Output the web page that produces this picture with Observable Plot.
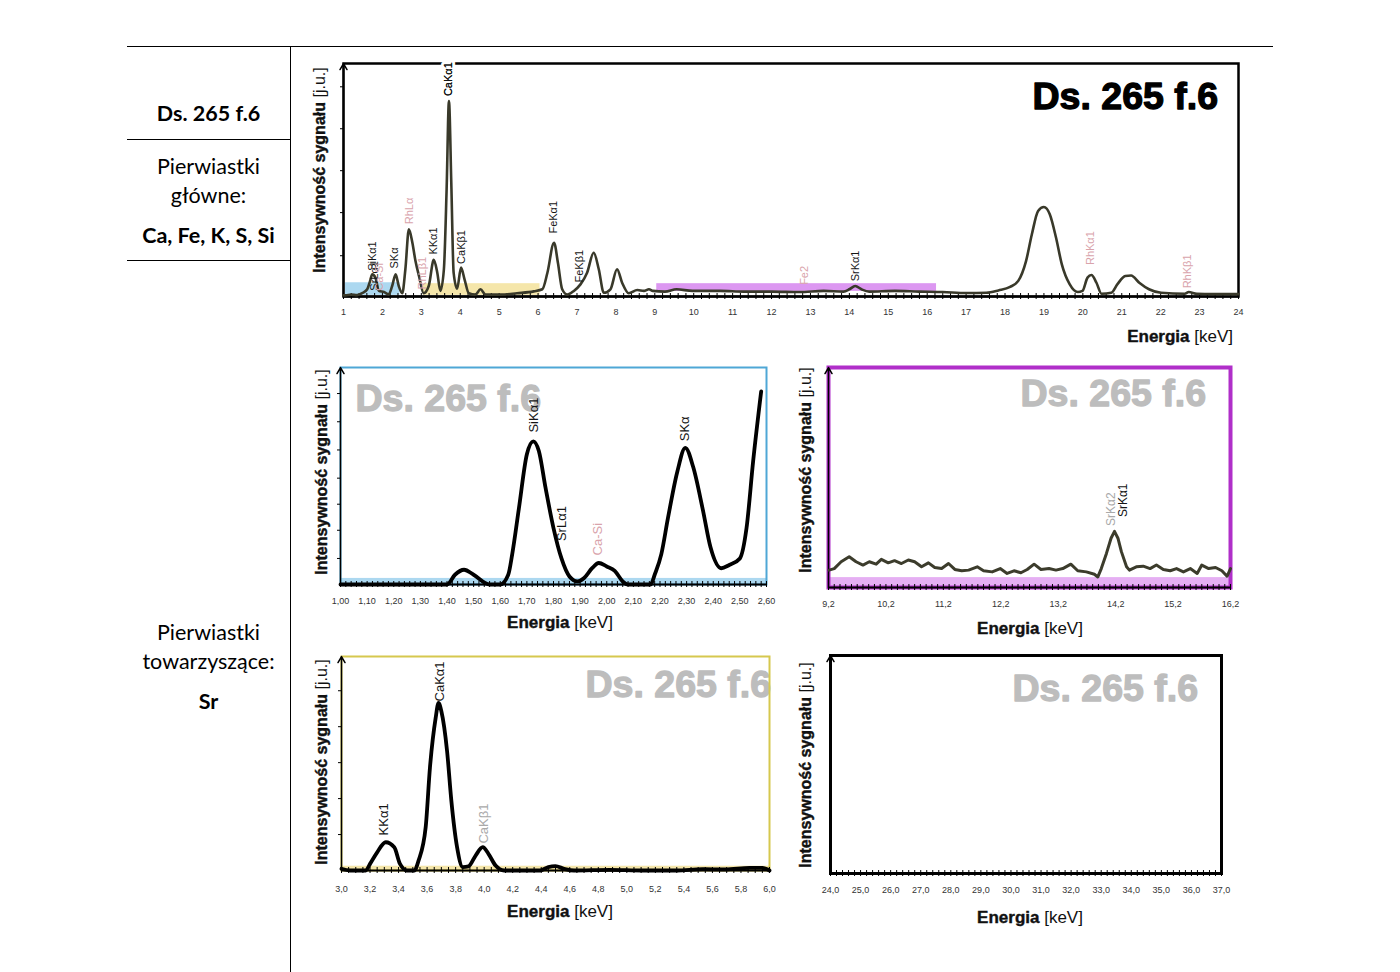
<!DOCTYPE html>
<html><head><meta charset="utf-8">
<script src="https://cdn.jsdelivr.net/npm/d3@7"></script>
<script src="https://cdn.jsdelivr.net/npm/@observablehq/plot@0.6"></script>
<style>
body{margin:0;background:#fff;}
#page{position:relative;width:1400px;height:972px;overflow:hidden;background:#fff;font-family:Lato,"Open Sans",sans-serif;}
.ln{position:absolute;background:#000;}
.lt{position:absolute;left:127px;width:163px;text-align:center;font-size:21.5px;line-height:24px;color:#000;transform:translateY(-50%);}
.chart{position:absolute;}
.ylab{position:absolute;font-family:"Liberation Sans Narrow","Arial Narrow","Liberation Sans",sans-serif;font-size:16px;white-space:nowrap;transform:translate(-50%,-50%) rotate(-90deg);color:#111;}
.ylab b{-webkit-text-stroke:0.4px #111;}
.xlab{position:absolute;font-family:"Liberation Sans Narrow","Arial Narrow","Liberation Sans",sans-serif;font-size:17px;white-space:nowrap;transform:translate(-50%,-50%);color:#111;}
.xlab b{-webkit-text-stroke:0.4px #111;}
</style></head>
<body><div id="page">
<div class="ln" style="left:127px;top:46px;width:1146px;height:1px"></div>
<div class="ln" style="left:290px;top:46px;width:1px;height:926px"></div>
<div class="ln" style="left:127px;top:139px;width:163px;height:1px"></div>
<div class="ln" style="left:127px;top:260px;width:163px;height:1px"></div>
<div class="lt" style="top:113px;font-weight:bold">Ds. 265 f.6</div>
<div class="lt" style="top:166px">Pierwiastki</div>
<div class="lt" style="top:195px">główne:</div>
<div class="lt" style="top:235px;font-weight:bold">Ca, Fe, K, S, Si</div>
<div class="lt" style="top:632px">Pierwiastki</div>
<div class="lt" style="top:661px">towarzyszące:</div>
<div class="lt" style="top:701px;font-weight:bold">Sr</div>
</div>
<script>
// ---------- data ----------
const sampleName = "Ds. 265 f.6";

// full spectrum 1–24 keV
const mainE = [1.0,1.05,1.2,1.35,1.48,1.61,1.68,1.74,1.82,1.91,
 2.04,2.16,2.25,2.34,2.42,2.51,2.59,2.68,2.77,2.85,
 2.94,3.06,3.19,3.32,3.41,3.49,3.58,3.65,3.71,3.77,
 3.83,3.92,4.02,4.11,4.22,4.39,4.52,4.65,5.03,5.46,
 5.89,6.11,6.24,6.41,6.51,6.62,6.75,6.92,7.09,7.26,
 7.43,7.56,7.69,7.86,8.03,8.16,8.33,8.55,8.72,8.85,
 8.95,9.26,9.56,9.97,10.68,11.3,12.01,12.72,13.34,13.85,
 14.0,14.15,14.31,14.51,15.17,15.79,16.4,17.01,17.52,17.83,
 18.13,18.34,18.54,18.69,18.85,19.0,19.15,19.31,19.46,19.66,
 19.87,19.99,20.12,20.22,20.35,20.48,20.73,20.89,21.09,21.24,
 21.45,21.7,22.01,22.62,22.72,22.93,24.0];
const mainI = [0.5,0.5,0.8,0.6,1.4,3.1,6.5,9.5,8.1,2.4,
 1.9,0.9,4.5,9.5,4.5,1.4,11.7,28.8,23.1,15.2,
 8.8,1.4,4.5,15.7,10.2,2.4,11.7,46,83.9,48.8,
 10.2,3.3,12.4,7.4,1.4,0.8,3.1,0.8,0.8,1.4,
 2.2,3.1,10.2,23.1,14.5,3.1,0.8,2.4,5.2,10.2,
 18.8,11.7,1.6,3.1,11.7,5.9,1.4,2.8,2.4,3.1,
 2.4,2.1,3.1,2.4,2.4,2.1,2.1,1.9,2.4,2.1,
 3.1,4.5,3.1,2.1,2.4,2.1,1.9,1.5,1.6,2.6,
 4.1,6.7,15.2,26.7,36.7,38.4,35.3,25.3,13.8,5.3,
 1.9,2.4,8.1,9.2,5.9,1.2,1.6,5.3,8.8,9.0,
 5.9,3.1,1.6,1.2,1.9,1.2,1.0];
const mainTicks = [1,2,3,4,5,6,7,8,9,10,11,12,13,14,15,16,17,18,19,20,21,22,23,24];
const mainYTicks = [17.5,36,54,72,90];
const mainLabelText = ["SiKα1","SrLα1","Ca-Si","SKα","RhLα","RhLβ1","KKα1","CaKα1","CaKβ1","FeKα1","FeKβ1","Fe2","SrKα1","RhKα1","RhKβ1"];
const mainLabelE = [1.74,1.80,1.92,2.32,2.70,3.02,3.30,3.70,4.02,6.40,7.07,12.85,14.15,20.2,22.7];
const mainLabelV = [11,2.5,2.5,12,31,3,18,86,14,27,6,5,6.5,13.5,3.5];
const mainLabelKind = ["el","el","rh","el","rh","rh","el","el","el","el","el","rh","el","rh","rh"];
const mainBandStart = [1.05,3.05,9.05];
const mainBandEnd = [2.45,6.05,16.24];
const mainBandLow = [0.5,0.5,2.2];
const mainBandHigh = [5.9,5.5,5.5];
const mainBandKind = ["blue","yellow","purple"];

// zoom 1.00–2.60 keV
const c1E = [1.00,1.40,1.43,1.464,1.50,1.56,1.60,1.63,1.645,1.67,
 1.70,1.724,1.745,1.77,1.80,1.83,1.86,1.89,1.915,1.945,
 1.97,2.00,2.03,2.06,2.08,2.165,2.18,2.205,2.23,2.265,
 2.295,2.325,2.36,2.39,2.43,2.46,2.50,2.525,2.55,2.58];
const c1I = [0,0,4.5,6.8,4.5,0,0,4.5,14,35,
 60,66,61.5,44.6,26,12,3.7,1.4,3,7.5,
 9.9,8.3,6.3,1.4,0,0,4.5,14,30.7,52,
 63,54,35,17,7.5,9,12,26,57,89];
const c1Ticks = [1.0,1.1,1.2,1.3,1.4,1.5,1.6,1.7,1.8,1.9,2.0,2.1,2.2,2.3,2.4,2.5,2.6];
const c1YTicks = [12,25,37,49,62,75,88];
const c1LabelText = ["SiKα1","SrLα1","Ca-Si","SKα"];
const c1LabelE = [1.725,1.83,1.965,2.295];
const c1LabelV = [70,20,13.4,66];
const c1LabelKind = ["el","el","rh","el"];

// zoom 9.2–16.2 keV
const c2E = [9.21,9.30,9.42,9.56,9.68,9.80,9.91,10.03,10.12,10.24,10.35,10.47,10.59,10.70,10.82,10.94,
 11.05,11.17,11.29,11.40,11.52,11.64,11.79,11.90,12.05,12.19,12.31,12.43,12.55,12.66,12.78,12.90,
 13.04,13.16,13.28,13.42,13.54,13.69,13.83,13.89,13.95,14.04,14.12,14.18,14.24,14.30,14.39,14.44,
 14.56,14.68,14.80,14.91,15.03,15.15,15.26,15.38,15.50,15.62,15.70,15.82,15.94,16.05,16.14,16.20];
const c2I = [7.9,8.6,11.7,14.0,11.7,10.2,11.7,10.6,12.8,11.2,12.2,10.9,12.5,11.7,9.4,11.2,
 9.1,8.6,10.9,8.2,7.6,7.9,9.4,7.6,7.1,8.6,6.4,7.6,6.7,8.2,10.6,8.2,
 8.6,7.9,8.6,10.6,7.6,7.1,6.0,4.8,8.6,15.5,22.4,25.5,22.4,16.3,9.4,7.9,
 9.4,9.7,8.6,10.2,8.2,7.6,8.6,7.1,8.6,6.4,10.2,8.6,9.1,7.6,5.1,8.6];
const c2Ticks = [9.2,10.2,11.2,12.2,13.2,14.2,15.2,16.2];
const c2LabelText = ["SrKα2","SrKα1"];
const c2LabelE = [14.12,14.33];
const c2LabelV = [28,32];
const c2LabelKind = ["aux","el"];

// zoom 3.0–6.0 keV
const c3E = [3.0,3.06,3.17,3.20,3.25,3.31,3.37,3.41,3.46,3.51,
 3.54,3.59,3.62,3.66,3.68,3.70,3.74,3.77,3.81,3.85,
 3.89,3.94,3.99,4.03,4.08,4.14,4.39,4.45,4.50,4.56,
 4.63,4.88,5.11,5.35,5.53,5.69,5.86,5.95,6.0];
const c3I = [0.8,0,0,3.1,8.5,13.2,10.9,3.1,0,0,
 4.6,20.2,48.1,71.3,78.3,74.4,55.8,32.6,10.9,1.6,
 1.9,7.0,10.9,7.8,2.3,0,0,1.6,2.0,0.8,
 0,0.3,0,0,0.6,0.5,1.2,1.2,0];
const c3Ticks = [3.0,3.2,3.4,3.6,3.8,4.0,4.2,4.4,4.6,4.8,5.0,5.2,5.4,5.6,5.8,6.0];
const c3YTicks = [16.8,33.6,50.4,67.2,84];
const c3LabelText = ["KKα1","CaKα1","CaKβ1"];
const c3LabelE = [3.30,3.69,4.00];
const c3LabelV = [16.4,79,12.6];
const c3LabelKind = ["el","el","aux"];

// zoom 24–37 keV (no signal)
const c4Ticks = [24,25,26,27,28,29,30,31,32,33,34,35,36,37];

// ---------- styles ----------
const kindColor = {el:"#151515", rh:"#d9a3ab", aux:"#a9a9a9"};
const bandColor = {blue:"#a3d4ee", yellow:"#f4e3a1", purple:"#d88cef"};
const labelFont = "'Liberation Sans', Arial, sans-serif";
const comma = (digits) => (d) => d.toFixed(digits).replace(".", ",");

const page = document.getElementById("page");

function chart(cfg) {
  const [L, T, W, H] = cfg.box;
  const [px0, py0, px1, py1] = cfg.area;
  const ppu = (py1 - py0) / 100;
  const series = cfg.E ? cfg.E.map((e, i) => ({e, v: cfg.I[i]})) : [];
  const labels = cfg.lt ? cfg.lt.map((t, i) => ({t, e: cfg.le[i], v: cfg.lv[i], c: kindColor[cfg.lk[i]]})) : [];
  const minor = d3.range(cfg.xd[0], cfg.xd[1] + 1e-9, cfg.minor);
  const marks = [];
  if (cfg.wm) marks.push(Plot.text([cfg.wm.text], {
    frameAnchor: "top-left", dx: cfg.wm.x - px0, dy: cfg.wm.base - 12 - py0,
    text: d => d, textAnchor: "start", lineAnchor: "middle",
    fontSize: 37.5, fontWeight: "bold", fill: cfg.wm.color, stroke: cfg.wm.color, strokeWidth: 1.3, fontFamily: labelFont
  }));
  if (cfg.bands) marks.push(Plot.rect(cfg.bands, {x1: "x1", x2: "x2", y1: "y1", y2: "y2", fill: "fill", fillOpacity: 0.9}));
  marks.push(Plot.frame({stroke: cfg.frame, strokeWidth: cfg.frameW}));
  marks.push(Plot.ruleY([0], {stroke: "#000", strokeWidth: 2}));
  marks.push(Plot.ruleX(minor, {x: d => d, y1: -3 / ppu, y2: 3 / ppu, stroke: "#000", strokeWidth: 1}));
  marks.push(Plot.arrow([0], {x1: cfg.xd[0], x2: cfg.xd[0], y1: 0, y2: 100, stroke: "#000", strokeWidth: 1.5, headLength: 7}));
  if (cfg.yt) marks.push(Plot.axisY({ticks: cfg.yt, tickSize: 3, tickFormat: () => "", label: null}));
  marks.push(Plot.axisX({ticks: cfg.ticks, tickFormat: cfg.fmt, tickSize: 0, tickPadding: cfg.tickY - py1 - 3, fontSize: 9, color: "#333", label: null}));
  if (series.length) marks.push(Plot.line(series, {x: "e", y: "v", stroke: cfg.stroke, strokeWidth: cfg.sw, curve: cfg.curve}));
  if (labels.length) {
    const top = labels.filter(d => d.v > 80);
    if (top.length) marks.push(Plot.text(top, {x: "e", y: "v", text: "t", rotate: -90, textAnchor: "start", lineAnchor: "middle", fill: "c", stroke: "white", strokeWidth: 6, fontSize: cfg.lfs, fontFamily: labelFont}));
    marks.push(Plot.text(labels, {x: "e", y: "v", text: "t", rotate: -90, textAnchor: "start", lineAnchor: "middle", fill: "c", fontSize: cfg.lfs, fontFamily: labelFont}));
  }
  const svg = Plot.plot({
    width: W, height: H,
    marginLeft: px0 - L, marginRight: L + W - px1, marginTop: py0 - T, marginBottom: T + H - py1,
    x: {domain: cfg.xd, axis: null},
    y: {domain: [0, 100], axis: cfg.yt ? undefined : null},
    color: {type: "identity"},
    style: {background: "transparent", fontFamily: "'Liberation Sans Narrow','Arial Narrow','Liberation Sans',sans-serif", fontSize: "9px", overflow: "visible"},
    marks
  });
  svg.style.position = "absolute";
  svg.style.left = L + "px";
  svg.style.top = T + "px";
  page.appendChild(svg);

  const yl = document.createElement("div");
  yl.className = "ylab";
  yl.style.left = cfg.ylab[0] + "px"; yl.style.top = cfg.ylab[1] + "px";
  yl.innerHTML = "<b>Intensywność sygnału</b> [j.u.]";
  page.appendChild(yl);
  const xl = document.createElement("div");
  xl.className = "xlab";
  xl.style.left = cfg.xlab[0] + "px"; xl.style.top = cfg.xlab[1] + "px";
  if (cfg.xlabRight) xl.style.transform = "translate(-100%,-50%)";
  xl.innerHTML = "<b>Energia</b> [keV]";
  page.appendChild(xl);
}

const mainBands = mainBandStart.map((s, i) => ({x1: s, x2: mainBandEnd[i], y1: mainBandLow[i], y2: mainBandHigh[i], fill: bandColor[mainBandKind[i]]}));

chart({
  box: [290, 46, 960, 310], area: [343, 63, 1238, 296], xd: [1, 24],
  ticks: mainTicks, fmt: d => String(d), tickY: 311, minor: 0.2, yt: mainYTicks,
  frame: "#000", frameW: 2.5, bands: mainBands,
  E: mainE, I: mainI, stroke: "#39392a", sw: 2.6, curve: "monotone-x",
  lt: mainLabelText, le: mainLabelE, lv: mainLabelV, lk: mainLabelKind, lfs: 11,
  wm: {text: sampleName, x: 1032, base: 108, color: "#000"},
  ylab: [320, 170], xlab: [1233, 337], xlabRight: true
});

chart({
  box: [295, 355, 490, 285], area: [340, 367, 766, 584], xd: [1.0, 2.6],
  ticks: c1Ticks, fmt: comma(2), tickY: 600, minor: 0.02, yt: c1YTicks,
  frame: "#4fa7d6", frameW: 2,
  bands: [{x1: 1.0, x2: 2.6, y1: 0, y2: 2.8, fill: bandColor.blue}],
  E: c1E, I: c1I, stroke: "#000", sw: 3.8, curve: "monotone-x",
  lt: c1LabelText, le: c1LabelE, lv: c1LabelV, lk: c1LabelKind, lfs: 13,
  wm: {text: sampleName, x: 355, base: 410, color: "#bdbdbd"},
  ylab: [322, 472], xlab: [560, 623]
});

chart({
  box: [780, 355, 470, 290], area: [828, 367, 1230, 587], xd: [9.2, 16.2],
  ticks: c2Ticks, fmt: comma(1), tickY: 603, minor: 0.1,
  frame: "#b02fc9", frameW: 4,
  bands: [{x1: 9.2, x2: 16.2, y1: -0.5, y2: 4.5, fill: "#e2a6f2"}],
  E: c2E, I: c2I, stroke: "#3c3c2c", sw: 3, curve: "linear",
  lt: c2LabelText, le: c2LabelE, lv: c2LabelV, lk: c2LabelKind, lfs: 12,
  wm: {text: sampleName, x: 1020, base: 405, color: "#bdbdbd"},
  ylab: [806, 470], xlab: [1030, 629]
});

chart({
  box: [295, 645, 490, 285], area: [341, 656, 769, 870], xd: [3.0, 6.0],
  ticks: c3Ticks, fmt: comma(1), tickY: 888, minor: 0.05, yt: c3YTicks,
  frame: "#d6c84e", frameW: 2,
  bands: [{x1: 3.0, x2: 6.0, y1: 0, y2: 2, fill: bandColor.yellow}],
  E: c3E, I: c3I, stroke: "#000", sw: 3.8, curve: "monotone-x",
  lt: c3LabelText, le: c3LabelE, lv: c3LabelV, lk: c3LabelKind, lfs: 13,
  wm: {text: sampleName, x: 585, base: 696, color: "#bdbdbd"},
  ylab: [322, 762], xlab: [560, 912]
});

chart({
  box: [780, 645, 470, 295], area: [830, 655, 1221, 873], xd: [24, 37],
  ticks: c4Ticks, fmt: comma(1), tickY: 889, minor: 0.2,
  frame: "#000", frameW: 3,
  wm: {text: sampleName, x: 1012, base: 700, color: "#bdbdbd"},
  ylab: [806, 765], xlab: [1030, 918]
});
</script>
</body></html>
